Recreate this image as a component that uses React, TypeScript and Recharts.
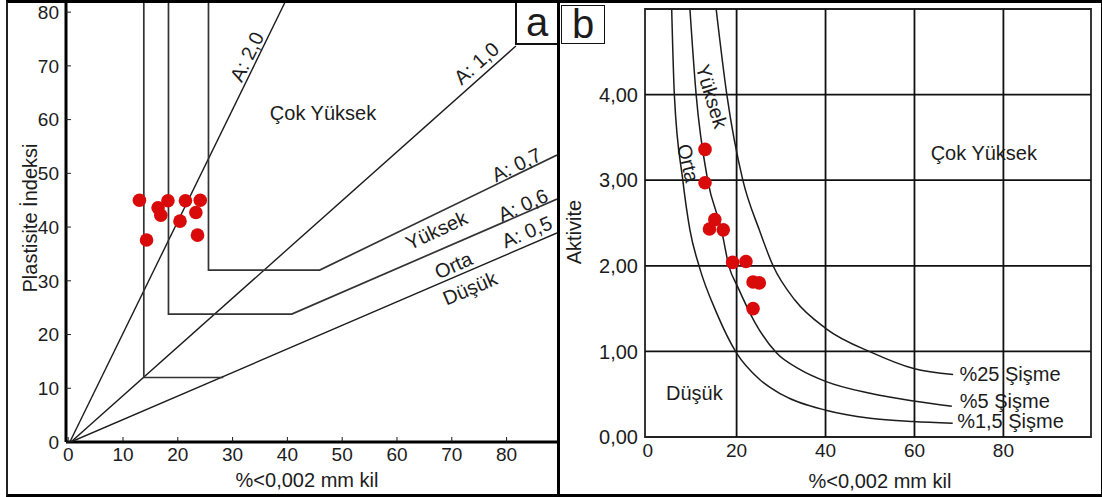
import React from 'react'
import { ScatterChart, Scatter, XAxis, YAxis, ReferenceDot, ReferenceLine, ReferenceArea } from 'recharts'

const font = '"Liberation Sans", Arial, sans-serif'
const ink = '#1c1c1c'
const red = '#d90a0a'

// panel a: plasticity index vs clay fraction
const aTicksX = [0, 10, 20, 30, 40, 50, 60, 70, 80]
const aTicksY = [0, 10, 20, 30, 40, 50, 60, 70, 80]
const lineA20 = [{ x: 0.3, y: 0 }, { x: 39.5, y: 81.7 }]
const lineA10 = [{ x: 0.5, y: 0 }, { x: 81.7, y: 73.7 }]
const lineA05 = [{ x: 0.5, y: 0 }, { x: 89.2, y: 38.9 }]
const boxLow = [{ x: 13.8, y: 81.7 }, { x: 13.8, y: 12 }, { x: 28.3, y: 12 }]
const boxMid = [{ x: 18.3, y: 81.7 }, { x: 18.3, y: 23.8 }, { x: 40.8, y: 23.8 }, { x: 89.2, y: 45.2 }]
const boxHigh = [{ x: 25.6, y: 81.7 }, { x: 25.6, y: 32 }, { x: 45.9, y: 32 }, { x: 89.2, y: 53.4 }]
const samplesA = [
  { x: 13.0, y: 45.0 }, { x: 16.4, y: 43.6 }, { x: 16.9, y: 42.2 }, { x: 18.2, y: 44.9 },
  { x: 21.4, y: 44.9 }, { x: 24.1, y: 45.0 }, { x: 23.3, y: 42.7 }, { x: 20.4, y: 41.1 },
  { x: 23.6, y: 38.5 }, { x: 14.3, y: 37.6 },
]
const labelsA = [
  { text: 'Çok Yüksek', x: 46.5, y: 61.2, angle: 0 },
  { text: 'A: 2,0', x: 32.6, y: 71.7, angle: -64 },
  { text: 'A: 1,0', x: 74.5, y: 70.5, angle: -41.5 },
  { text: 'A: 0,7', x: 81.8, y: 51.6, angle: -26 },
  { text: 'A: 0,6', x: 83.0, y: 44.1, angle: -24 },
  { text: 'A: 0,5', x: 83.7, y: 39.1, angle: -23 },
  { text: 'Yüksek', x: 67.2, y: 39.4, angle: -25 },
  { text: 'Orta', x: 70.3, y: 32.9, angle: -24 },
  { text: 'Düşük', x: 73.3, y: 28.6, angle: -23 },
]

// panel b: activity vs clay fraction
const bTicksX = [0, 20, 40, 60, 80]
const bTicksY = [0, 1, 2, 3, 4]
const bTickNames = ['0,00', '1,00', '2,00', '3,00', '4,00']
const gridX = [20, 40, 60, 80]
const gridY = [1, 2, 3, 4]
const swell15 = [
  { x: 5.4, y: 5.0 }, { x: 6.0, y: 4.0 }, { x: 7.9, y: 3.0 }, { x: 9.5, y: 2.42 }, { x: 11.6, y: 1.99 },
  { x: 15.5, y: 1.45 }, { x: 20.0, y: 0.98 }, { x: 25, y: 0.68 }, { x: 30, y: 0.5 }, { x: 40.3, y: 0.31 },
  { x: 50, y: 0.22 }, { x: 59.7, y: 0.18 }, { x: 68.6, y: 0.16 },
]
const swell5 = [
  { x: 9.5, y: 5.0 }, { x: 10.9, y: 4.0 }, { x: 13.5, y: 3.0 }, { x: 16.6, y: 2.42 }, { x: 18.3, y: 1.99 },
  { x: 20.2, y: 1.76 }, { x: 24.1, y: 1.34 }, { x: 29.0, y: 0.98 }, { x: 34.2, y: 0.79 }, { x: 40.0, y: 0.65 },
  { x: 50, y: 0.51 }, { x: 59.8, y: 0.42 }, { x: 68.4, y: 0.36 },
]
const swell25 = [
  { x: 15.4, y: 5.0 }, { x: 17.8, y: 4.0 }, { x: 21.4, y: 3.0 }, { x: 25.1, y: 2.42 }, { x: 28.2, y: 2.0 },
  { x: 33.1, y: 1.6 }, { x: 40.0, y: 1.27 }, { x: 50.7, y: 0.98 }, { x: 59.8, y: 0.8 }, { x: 68.7, y: 0.73 },
]
const samplesB = [
  { x: 12.9, y: 3.36 }, { x: 12.9, y: 2.97 }, { x: 15.1, y: 2.54 }, { x: 13.9, y: 2.43 }, { x: 17.0, y: 2.42 },
  { x: 19.1, y: 2.04 }, { x: 22.1, y: 2.05 }, { x: 23.7, y: 1.81 }, { x: 25.1, y: 1.8 }, { x: 23.7, y: 1.5 },
]
const labelsB = [
  { text: 'Yüksek', x: 14.4, y: 3.98, angle: 73, anchor: 'middle' },
  { text: 'Orta', x: 9.1, y: 3.2, angle: 76, anchor: 'middle' },
  { text: 'Çok Yüksek', x: 75.6, y: 3.32, angle: 0, anchor: 'middle' },
  { text: 'Düşük', x: 10.5, y: 0.51, angle: 0, anchor: 'middle' },
  { text: '%25 Şişme', x: 70.1, y: 0.74, angle: 0, anchor: 'start' },
  { text: '%5 Şişme', x: 70.2, y: 0.42, angle: 0, anchor: 'start' },
  { text: '%1,5 Şişme', x: 69.6, y: 0.19, angle: 0, anchor: 'start' },
]

const noDot = () => <g />
const dot = (p: any) => <circle cx={p.cx} cy={p.cy} r={6.8} fill={red} />

function note(text: string, angle: number, anchor: string = 'middle') {
  return (p: any) => (
    <text
      x={p.cx}
      y={p.cy}
      textAnchor={anchor as any}
      dominantBaseline="central"
      transform={angle ? `rotate(${angle} ${p.cx} ${p.cy})` : undefined}
      fontSize={20}
      fontFamily={font}
      fill={ink}
    >
      {text}
    </text>
  )
}

const abs = (s: React.CSSProperties): React.CSSProperties => ({ position: 'absolute', ...s })

export default function App() {
  const tickStyle = { fill: ink, fontSize: 19, fontFamily: font }
  return (
    <div style={abs({ left: 0, top: 0, width: 1102, height: 497, background: '#fff', overflow: 'hidden' })}>
      <div style={abs({ left: 0, top: 0 })}>
        <ScatterChart width={560} height={497} margin={{ top: 3, right: 3, left: 0, bottom: 0 }}>
          <XAxis
            type="number"
            dataKey="x"
            domain={[-0.4, 89.2]}
            ticks={aTicksX}
            allowDataOverflow
            axisLine={{ stroke: '#000', strokeWidth: 3 }}
            tickLine={{ stroke: ink }}
            tickSize={-5}
            tickMargin={11}
            tick={tickStyle}
            height={55}
          />
          <YAxis
            type="number"
            dataKey="y"
            domain={[0, 81.7]}
            ticks={aTicksY}
            allowDataOverflow
            axisLine={{ stroke: '#000', strokeWidth: 3 }}
            tickLine={{ stroke: ink }}
            tickSize={-5}
            tickMargin={12}
            tick={tickStyle}
            width={66}
          />
          {[lineA20, lineA10, lineA05].map((d, i) => (
            <Scatter key={`a${i}`} data={d} line={{ stroke: ink, strokeWidth: 1.4 }} shape={noDot} isAnimationActive={false} />
          ))}
          {[boxLow, boxMid, boxHigh].map((d, i) => (
            <Scatter key={`b${i}`} data={d} line={{ stroke: '#333', strokeWidth: 1.7 }} shape={noDot} isAnimationActive={false} />
          ))}
          <Scatter data={samplesA} shape={dot} isAnimationActive={false} />
          {labelsA.map((l) => (
            <ReferenceDot key={l.text} x={l.x} y={l.y} r={0} shape={note(l.text, l.angle)} />
          ))}
        </ScatterChart>
      </div>

      <div style={abs({ left: 560, top: 0 })}>
        <ScatterChart width={540} height={497} margin={{ top: 9, right: 9, left: 0, bottom: 0 }}>
          <XAxis
            type="number"
            dataKey="x"
            domain={[-0.6, 99.7]}
            ticks={bTicksX}
            allowDataOverflow
            axisLine={false}
            tickLine={false}
            tickSize={0}
            tickMargin={7}
            tick={tickStyle}
            height={60}
          />
          <YAxis
            type="number"
            dataKey="y"
            domain={[0, 5]}
            ticks={bTicksY}
            tickFormatter={(v: number) => bTickNames[bTicksY.indexOf(v)]}
            allowDataOverflow
            axisLine={false}
            tickLine={false}
            tickSize={0}
            tickMargin={7}
            tick={{ ...tickStyle, fontSize: 20 }}
            width={85}
          />
          {gridX.map((v) => (
            <ReferenceLine key={`gx${v}`} x={v} stroke="#111" strokeWidth={1.8} />
          ))}
          {gridY.map((v) => (
            <ReferenceLine key={`gy${v}`} y={v} stroke="#111" strokeWidth={1.8} />
          ))}
          <ReferenceArea x1={-0.6} x2={99.7} y1={0} y2={5} fill="none" fillOpacity={0} stroke="#222" strokeWidth={1.8} />
          {[swell15, swell5, swell25].map((d, i) => (
            <Scatter
              key={`s${i}`}
              data={d}
              line={{ stroke: ink, strokeWidth: 1.5 }}
              lineType="joint"
              lineJointType="monotoneX"
              shape={noDot}
              isAnimationActive={false}
            />
          ))}
          <Scatter data={samplesB} shape={dot} isAnimationActive={false} />
          {labelsB.map((l) => (
            <ReferenceDot key={l.text} x={l.x} y={l.y} r={0} shape={note(l.text, l.angle, l.anchor)} />
          ))}
        </ScatterChart>
      </div>

      {/* frames and panel tags */}
      <div style={abs({ left: 6, top: 0, width: 1093, height: 491, borderTop: '3px solid #000', borderBottom: '3px solid #000', borderLeft: '2px solid #222', borderRight: '3px solid #000' })} />
      <div style={abs({ left: 557, top: 0, width: 3, height: 497, background: '#000' })} />
      <div style={abs({ left: 515, top: 3, width: 40, height: 40, borderLeft: '2px solid #111', borderBottom: '2px solid #111', background: '#fff', fontFamily: font, fontSize: 40, lineHeight: '38px', textAlign: 'center', color: ink })}>a</div>
      <div style={abs({ left: 561, top: 5, width: 42, height: 37, border: '1.5px solid #111', background: '#fff', fontFamily: font, fontSize: 40, lineHeight: '36px', textAlign: 'center', color: ink })}>b</div>

      {/* axis titles */}
      <div style={abs({ left: 207, top: 468, width: 200, textAlign: 'center', fontFamily: font, fontSize: 20, color: ink, lineHeight: '24px' })}>%&lt;0,002 mm kil</div>
      <div style={abs({ left: 780, top: 469, width: 200, textAlign: 'center', fontFamily: font, fontSize: 20, color: ink, lineHeight: '24px' })}>%&lt;0,002 mm kil</div>
      <div style={abs({ left: 30 - 100, top: 218 - 12, width: 200, textAlign: 'center', fontFamily: font, fontSize: 20, color: ink, lineHeight: '24px', transform: 'rotate(-90deg)' })}>Plastisite İndeksi</div>
      <div style={abs({ left: 574 - 100, top: 232 - 12, width: 200, textAlign: 'center', fontFamily: font, fontSize: 20, color: ink, lineHeight: '24px', transform: 'rotate(-90deg)' })}>Aktivite</div>
    </div>
  )
}
